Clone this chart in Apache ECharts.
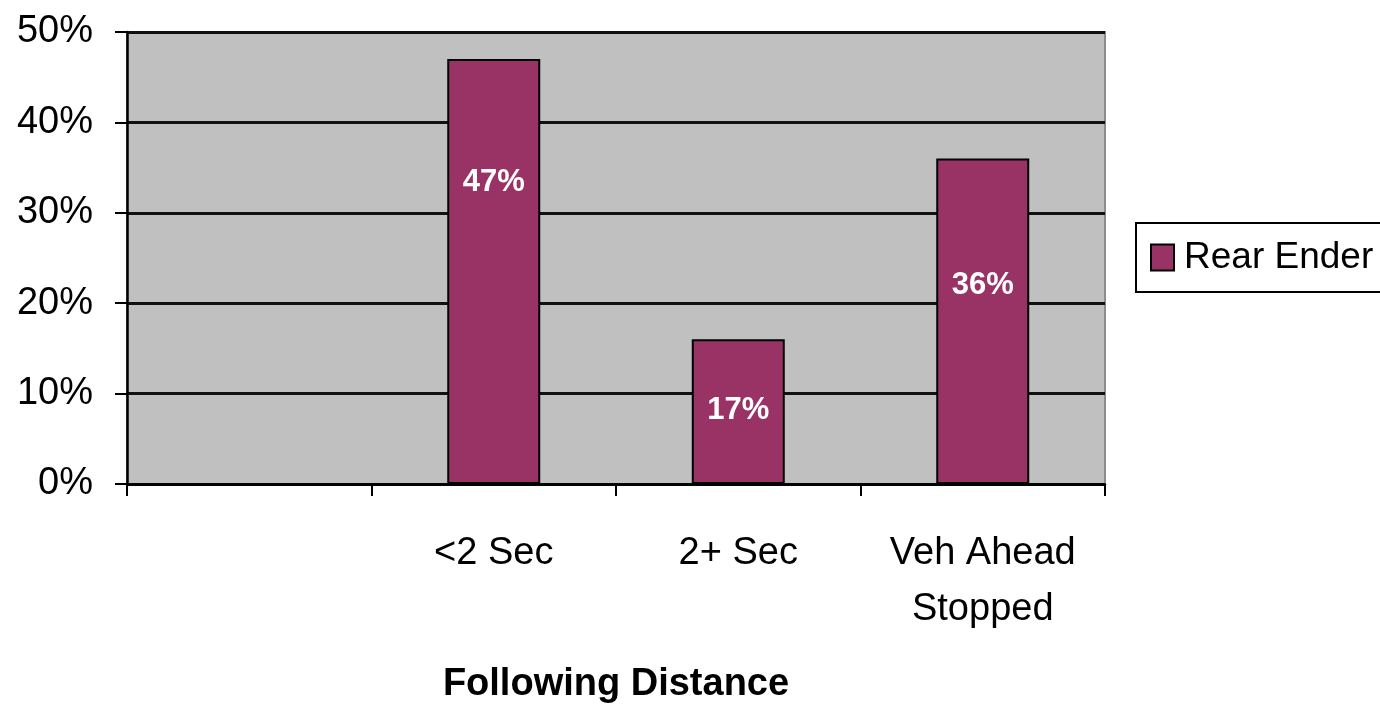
<!DOCTYPE html>
<html>
<head>
<meta charset="utf-8">
<script src="https://cdn.jsdelivr.net/npm/echarts@6/dist/echarts.min.js"></script>
<style>
  html, body { margin: 0; padding: 0; background: #fff; }
  #chart { width: 1380px; height: 708px; }
</style>
</head>
<body>
<div id="chart"></div>
<script>
const categories = ['', '<2 Sec', '2+ Sec', 'Veh Ahead\nStopped']
const rearEnder = [null, 47, 16, 36]
const valueLabels = ['', '47%', '17%', '36%']
const yTicks = [0, 10, 20, 30, 40, 50]

const font = '"Liberation Sans", Arial, sans-serif'
// where the white label sits inside each bar (fraction of bar height from top)
const labelY = [0, 0.29, 0.49, 0.39]

const chart = echarts.init(document.getElementById('chart'))

chart.setOption({
  animation: false,
  backgroundColor: '#fff',
  grid: {
    left: 127,
    right: 275,
    top: 32,
    bottom: 224,
    outerBoundsMode: 'none',
    show: true,
    backgroundColor: '#c0c0c0',
    borderColor: '#8c8c8c',
    borderWidth: 2
  },
  legend: {
    left: 1136,
    top: 223,
    orient: 'vertical',
    data: ['Rear Ender'],
    backgroundColor: '#fff',
    borderColor: '#000',
    borderWidth: 2,
    padding: [16, 28, 16, 14],
    itemWidth: 23,
    itemHeight: 26,
    icon: 'rect',
    textStyle: {
      fontFamily: font,
      fontSize: 37,
      color: '#000',
      padding: [0, 0, 0, 5]
    }
  },
  xAxis: {
    type: 'category',
    data: categories,
    name: 'Following Distance',
    nameLocation: 'middle',
    nameGap: 182,
    nameTextStyle: {
      fontFamily: font,
      fontWeight: 'bold',
      fontSize: 38,
      color: '#000'
    },
    axisLine: { lineStyle: { color: '#000', width: 2.5 } },
    axisTick: { show: true, interval: 0, length: 12, lineStyle: { color: '#000', width: 2 } },
    axisLabel: {
      interval: 0,
      margin: 42,
      fontFamily: font,
      fontSize: 38,
      lineHeight: 56,
      color: '#000'
    }
  },
  yAxis: {
    type: 'value',
    min: 0,
    max: 50,
    interval: 10,
    axisLine: { show: true, lineStyle: { color: '#000', width: 2.5 } },
    axisTick: { show: true, length: 12, lineStyle: { color: '#000', width: 2 } },
    splitLine: { lineStyle: { color: '#111', width: 3 } },
    axisLabel: {
      margin: 34,
      fontFamily: font,
      fontSize: 38,
      color: '#000',
      formatter: v => (yTicks.includes(v) ? v + '%' : '')
    }
  },
  series: [{
    name: 'Rear Ender',
    type: 'bar',
    barWidth: 93,
    data: rearEnder.map((v, i) => ({
      value: v,
      label: {
        show: v != null,
        position: ['50%', (labelY[i] * 100) + '%'],
        align: 'center',
        verticalAlign: 'middle',
        formatter: valueLabels[i],
        color: '#fff',
        fontFamily: font,
        fontWeight: 'bold',
        fontSize: 31
      }
    })),
    itemStyle: {
      color: '#993366',
      borderColor: '#000',
      borderWidth: 2
    }
  }]
})
</script>
</body>
</html>
